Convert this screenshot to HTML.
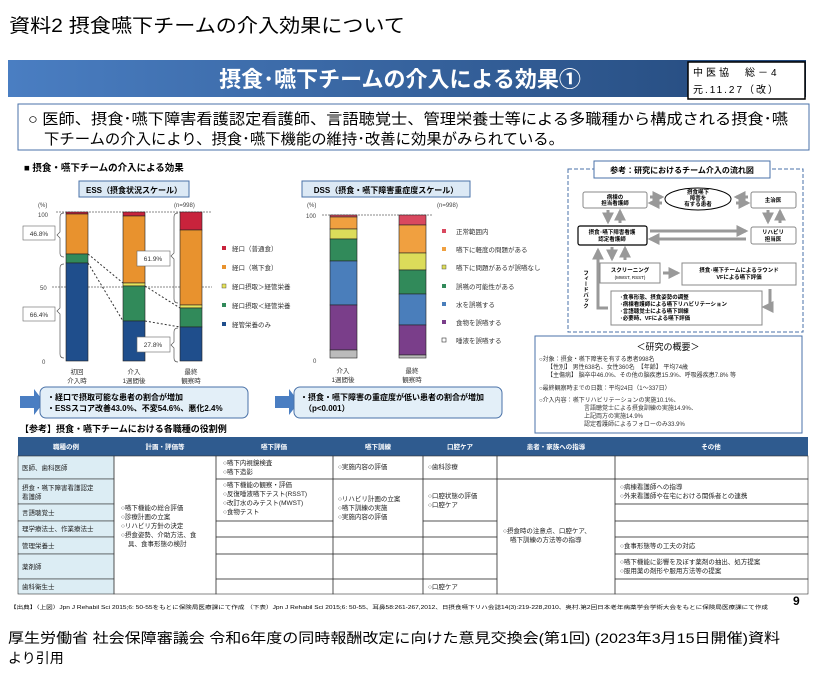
<!DOCTYPE html>
<html><head><meta charset="utf-8"><style>
html,body{margin:0;padding:0;background:#fff}
svg{display:block;font-family:"Liberation Sans","Noto Sans CJK JP",sans-serif}
</style></head><body>
<svg width="821" height="678" viewBox="0 0 821 678" xmlns="http://www.w3.org/2000/svg">
<defs>
<linearGradient id="bn" x1="0" x2="1" y1="0" y2="0"><stop offset="0" stop-color="#4a7ec2"/><stop offset="1" stop-color="#23487a"/></linearGradient>
<marker id="ah" viewBox="0 0 10 10" refX="8" refY="5" markerWidth="4" markerHeight="4" orient="auto"><path d="M0,0L10,5L0,10z" fill="#999"/></marker>
</defs>
<text x="9" y="32" font-size="19" fill="#000" textLength="396" lengthAdjust="spacingAndGlyphs">資料2 摂食嚥下チームの介入効果について</text>
<rect x="8" y="60" width="798" height="37" fill="url(#bn)"/>
<text x="400" y="87" font-size="22" fill="#fff" text-anchor="middle" font-weight="bold">摂食･嚥下チームの介入による効果①</text>
<rect x="688" y="62" width="117" height="37" fill="#fff" stroke="#000" stroke-width="1.5"/>
<text x="693" y="76" font-size="10" letter-spacing="3">中医協　総－4</text>
<text x="693" y="93" font-size="10" letter-spacing="2">元.11.27（改）</text>
<rect x="18" y="104" width="791" height="46" fill="#fff" stroke="#4a72a8" stroke-width="1"/>
<text x="28" y="124" font-size="15" textLength="760" lengthAdjust="spacingAndGlyphs">○  医師、摂食･嚥下障害看護認定看護師、言語聴覚士、管理栄養士等による多職種から構成される摂食･嚥</text>
<text x="44" y="144" font-size="15" textLength="520" lengthAdjust="spacingAndGlyphs">下チームの介入により、摂食･嚥下機能の維持･改善に効果がみられている。</text>

<text x="24" y="171" font-size="9.5" font-weight="bold">■ 摂食・嚥下チームの介入による効果</text>
<!-- ESS -->
<rect x="79" y="181" width="110" height="16" fill="#dce9f5" stroke="#4a72a8"/>
<text x="134" y="193" font-size="8" font-weight="bold" text-anchor="middle">ESS（摂食状況スケール）</text>
<g font-size="6" fill="#444">
<text x="38" y="207">(%)</text><text x="174" y="207">(n=998)</text>
<text x="38" y="217">100</text><text x="40" y="290">50</text><text x="42" y="364">0</text>
</g>
<line x1="56" y1="212" x2="212" y2="212" stroke="#888" stroke-dasharray="2,1"/>
<line x1="52" y1="287" x2="212" y2="287" stroke="#888" stroke-dasharray="2,1"/>
<g stroke="#222" stroke-width="0.6">
<rect x="66" y="212" width="22" height="2" fill="#c8233c"/><rect x="66" y="214" width="22" height="40" fill="#e8922e"/><rect x="66" y="254" width="22" height="9" fill="#318a5a"/><rect x="66" y="263" width="22" height="98" fill="#1f4e8c"/>
<rect x="123" y="212" width="22" height="4" fill="#c8233c"/><rect x="123" y="216" width="22" height="67" fill="#e8922e"/><rect x="123" y="283" width="22" height="3" fill="#e6e35a"/><rect x="123" y="286" width="22" height="35" fill="#318a5a"/><rect x="123" y="321" width="22" height="40" fill="#1f4e8c"/>
<rect x="180" y="212" width="22" height="18" fill="#c8233c"/><rect x="180" y="230" width="22" height="75" fill="#e8922e"/><rect x="180" y="305" width="22" height="3" fill="#e6e35a"/><rect x="180" y="308" width="22" height="19" fill="#318a5a"/><rect x="180" y="327" width="22" height="34" fill="#1f4e8c"/>
</g>
<g stroke="#333" stroke-dasharray="2,2" fill="none">
<line x1="88" y1="254" x2="123" y2="283"/><line x1="88" y1="263" x2="123" y2="321"/>
<line x1="145" y1="286" x2="180" y2="308"/><line x1="145" y1="321" x2="180" y2="327"/>
</g>
<g fill="none" stroke="#555" stroke-width="0.7">
<path d="M64,213 q-4,0 -4,4 v15 l-3,3 l3,3 v15 q0,4 4,4"/>
<path d="M64,264 q-4,0 -4,4 v40 l-3,3 l3,3 v40 q0,4 4,4"/>
<path d="M178,213 q-4,0 -4,4 v36 l-3,3 l3,3 v40 q0,4 4,4"/>
<path d="M178,328 q-4,0 -4,4 v10 l-3,3 l3,3 v10 q0,4 4,4"/>
</g>
<g font-size="6.5" fill="#333" text-anchor="middle">
<rect x="23" y="226" width="32" height="14" fill="#fff" stroke="#666" stroke-width="0.6"/><text x="39" y="236">46.8%</text>
<rect x="23" y="307" width="32" height="14" fill="#fff" stroke="#666" stroke-width="0.6"/><text x="39" y="317">66.4%</text>
<rect x="137" y="251" width="33" height="15" fill="#fff" stroke="#666" stroke-width="0.6"/><text x="153" y="261">61.9%</text>
<rect x="137" y="337" width="33" height="15" fill="#fff" stroke="#666" stroke-width="0.6"/><text x="153" y="347">27.8%</text>
<text x="77" y="374">初回</text><text x="77" y="383">介入時</text>
<text x="134" y="374">介入</text><text x="134" y="383">1週間後</text>
<text x="191" y="374">最終</text><text x="191" y="383">観察時</text>
</g>
<g font-size="6.5" fill="#333">
<rect x="222" y="246" width="4" height="4" fill="#c8233c"/><text x="232" y="251">経口（普通食）</text>
<rect x="222" y="265" width="4" height="4" fill="#e8922e"/><text x="232" y="270">経口（嚥下食）</text>
<rect x="222" y="284" width="4" height="4" fill="#e6e35a" stroke="#333" stroke-width="0.4"/><text x="232" y="289">経口摂取＞経管栄養</text>
<rect x="222" y="303" width="4" height="4" fill="#318a5a"/><text x="232" y="308">経口摂取＜経管栄養</text>
<rect x="222" y="322" width="4" height="4" fill="#1f4e8c"/><text x="232" y="327">経管栄養のみ</text>
</g>
<path d="M20,396 h14 v-7 l10,13 l-10,13 v-7 h-14z" fill="#4a7ec2"/>
<rect x="40" y="387" width="208" height="31" rx="6" fill="#e3eff8" stroke="#4a72a8"/>
<text x="47" y="400" font-size="8" font-weight="bold">・経口で摂取可能な患者の割合が増加</text>
<text x="47" y="411" font-size="8" font-weight="bold">・ESSスコア改善43.0%、不変54.6%、悪化2.4%</text>

<!-- DSS -->
<rect x="302" y="181" width="168" height="16" fill="#dce9f5" stroke="#4a72a8"/>
<text x="386" y="193" font-size="8" font-weight="bold" text-anchor="middle">DSS（摂食・嚥下障害重症度スケール）</text>
<g font-size="6" fill="#444">
<text x="307" y="207">(%)</text><text x="437" y="207">(n=998)</text>
<text x="306" y="218">100</text><text x="313" y="363">0</text>
</g>
<line x1="322" y1="215" x2="432" y2="215" stroke="#888" stroke-dasharray="2,1"/>
<g stroke="#222" stroke-width="0.6">
<rect x="330" y="215" width="27" height="2" fill="#d9485f"/><rect x="330" y="217" width="27" height="12" fill="#f0a040"/><rect x="330" y="229" width="27" height="10" fill="#dcdc5a"/><rect x="330" y="239" width="27" height="22" fill="#318a5a"/><rect x="330" y="261" width="27" height="44" fill="#4a7ebb"/><rect x="330" y="305" width="27" height="45" fill="#7a3e8a"/><rect x="330" y="350" width="27" height="8" fill="#bbb"/>
<rect x="399" y="215" width="27" height="10" fill="#d9485f"/><rect x="399" y="225" width="27" height="28" fill="#f0a040"/><rect x="399" y="253" width="27" height="17" fill="#dcdc5a"/><rect x="399" y="270" width="27" height="24" fill="#318a5a"/><rect x="399" y="294" width="27" height="31" fill="#4a7ebb"/><rect x="399" y="325" width="27" height="30" fill="#7a3e8a"/><rect x="399" y="355" width="27" height="3" fill="#bbb"/>
</g>
<g font-size="6.5" fill="#333">
<text x="343" y="373" text-anchor="middle">介入</text><text x="343" y="382" text-anchor="middle">1週間後</text>
<text x="412" y="373" text-anchor="middle">最終</text><text x="412" y="382" text-anchor="middle">観察時</text>
<rect x="442" y="229" width="4" height="4" fill="#d9485f"/><text x="456" y="234">正常範囲内</text>
<rect x="442" y="247" width="4" height="4" fill="#f0a040"/><text x="456" y="252">嚥下に軽度の問題がある</text>
<rect x="442" y="265" width="4" height="4" fill="#dcdc5a" stroke="#333" stroke-width="0.4"/><text x="456" y="270">嚥下に問題があるが誤嚥なし</text>
<rect x="442" y="284" width="4" height="4" fill="#318a5a"/><text x="456" y="289">誤嚥の可能性がある</text>
<rect x="442" y="302" width="4" height="4" fill="#4a7ebb"/><text x="456" y="307">水を誤嚥する</text>
<rect x="442" y="320" width="4" height="4" fill="#7a3e8a"/><text x="456" y="325">食物を誤嚥する</text>
<rect x="442" y="338" width="4" height="4" fill="#fff" stroke="#333" stroke-width="0.6"/><text x="456" y="343">唾液を誤嚥する</text>
</g>
<path d="M275,396 h14 v-7 l10,13 l-10,13 v-7 h-14z" fill="#4a7ec2"/>
<rect x="294" y="387" width="208" height="31" rx="6" fill="#e3eff8" stroke="#4a72a8"/>
<text x="300" y="400" font-size="8" font-weight="bold">・摂食・嚥下障害の重症度が低い患者の割合が増加</text>
<text x="304" y="411" font-size="8" font-weight="bold">（p&lt;0.001）</text>

<!-- flow -->
<rect x="568" y="169" width="235" height="163" fill="none" stroke="#4a72a8" stroke-dasharray="4,2"/>
<rect x="594" y="161" width="176" height="17" fill="#fff" stroke="#4a72a8"/>
<text x="682" y="173" font-size="8" font-weight="bold" text-anchor="middle">参考：研究におけるチーム介入の流れ図</text>
<g font-size="5.5" font-weight="bold" text-anchor="middle">
<rect x="583" y="192" width="64" height="16" rx="2" fill="#fff" stroke="#888"/><text x="615" y="199">病棟の</text><text x="615" y="205">担当看護師</text>
<ellipse cx="698" cy="199" rx="33" ry="11" fill="#fff" stroke="#000"/><text x="698" y="194">摂食嚥下</text><text x="698" y="200">障害を</text><text x="698" y="206">有する患者</text>
<rect x="751" y="192" width="45" height="16" rx="2" fill="#fff" stroke="#888"/><text x="773" y="202">主治医</text>
<rect x="578" y="226" width="69" height="19" rx="2" fill="#fff" stroke="#000" stroke-width="1.2"/><text x="612" y="234">摂食･嚥下障害看護</text><text x="612" y="241">認定看護師</text>
<rect x="751" y="227" width="45" height="17" rx="2" fill="#fff" stroke="#888"/><text x="773" y="234">リハビリ</text><text x="773" y="241">担当医</text>
<rect x="600" y="263" width="60" height="20" fill="#fff" stroke="#888"/><text x="630" y="272">スクリーニング</text><text x="630" y="279" font-weight="normal" font-size="4.5">(MWST, RSST)</text>
<rect x="682" y="263" width="114" height="22" fill="#fff" stroke="#888"/><text x="739" y="272">摂食･嚥下チームによるラウンド</text><text x="739" y="279">VFによる嚥下評価</text>
</g>
<rect x="611" y="291" width="151" height="34" fill="#fff" stroke="#888"/>
<g font-size="5.5" font-weight="bold"><text x="620" y="299">･食事形態、摂食姿勢の調整</text><text x="620" y="306">･病棟看護師による嚥下リハビリテーション</text><text x="620" y="313">･言語聴覚士による嚥下訓練</text><text x="620" y="320">･必要時、VFによる嚥下評価</text></g>
<g stroke="#999" stroke-width="3" fill="none" marker-end="url(#ah)">
<line x1="650" y1="197" x2="662" y2="197"/><line x1="662" y1="203" x2="650" y2="203"/>
<line x1="748" y1="197" x2="736" y2="197"/><line x1="736" y1="203" x2="748" y2="203"/>
<line x1="608" y1="210" x2="608" y2="222"/><line x1="620" y1="223" x2="620" y2="211"/>
<line x1="768" y1="210" x2="768" y2="222"/><line x1="780" y1="223" x2="780" y2="211"/>
<line x1="650" y1="231" x2="746" y2="231"/><line x1="746" y1="239" x2="650" y2="239"/>
<line x1="612" y1="247" x2="612" y2="259"/><line x1="625" y1="260" x2="625" y2="248"/>
<line x1="663" y1="273" x2="678" y2="273"/>
<path d="M770,289 v18 h-6"/>
<path d="M608,308 h-10 v-58"/>
</g>
<text x="585" y="270" font-size="5.5" font-weight="bold" writing-mode="tb">フィードバック</text>
<rect x="535" y="336" width="267" height="97" fill="#fff" stroke="#4a72a8"/>
<text x="668" y="350" font-size="9" text-anchor="middle">＜研究の概要＞</text>
<g font-size="6" fill="#333">
<text x="539" y="361">○対象：摂食・嚥下障害を有する患者998名</text>
<text x="547" y="369">【性別】 男性638名、女性360名　【年齢】 平均74歳</text>
<text x="547" y="377">【主傷病】 脳卒中46.0%、その他の脳疾患15.9%、呼吸器疾患7.8% 等</text>
<text x="539" y="390">○最終観察時までの日数：平均24日（1～337日）</text>
<text x="539" y="402">○介入内容：嚥下リハビリテーションの実施10.1%、</text>
<text x="584" y="410">言語聴覚士による摂食訓練の実施14.9%、</text>
<text x="584" y="418">上記両方の実施14.9%</text>
<text x="584" y="426">認定看護師によるフォローのみ33.9%</text>
</g>

<!-- table -->
<text x="20" y="432" font-size="9" font-weight="bold">【参考】摂食・嚥下チームにおける各職種の役割例</text>
<rect x="18" y="437" width="790" height="19" fill="#2f5b8f"/>
<g font-size="6.5" font-weight="bold" fill="#fff" text-anchor="middle">
<text x="66" y="449">職種の例</text><text x="165" y="449">計画・評価等</text><text x="274" y="449">嚥下評価</text><text x="378" y="449">嚥下訓練</text><text x="460" y="449">口腔ケア</text><text x="556" y="449">患者・家族への指導</text><text x="711" y="449">その他</text>
</g>
<g fill="#dcedf4" stroke="#333" stroke-width="0.6">
<rect x="18" y="456" width="96" height="23"/><rect x="18" y="479" width="96" height="25"/><rect x="18" y="504" width="96" height="17"/><rect x="18" y="521" width="96" height="16"/><rect x="18" y="537" width="96" height="17"/><rect x="18" y="554" width="96" height="25"/><rect x="18" y="579" width="96" height="15"/>
</g>
<g fill="none" stroke="#333" stroke-width="0.6">
<rect x="114" y="456" width="102" height="138"/>
<rect x="216" y="456" width="117" height="23"/><rect x="333" y="456" width="90" height="23"/><rect x="423" y="456" width="74" height="23"/><rect x="497" y="456" width="118" height="23"/><rect x="615" y="456" width="193" height="23"/>
<rect x="216" y="479" width="117" height="42"/><rect x="333" y="479" width="90" height="58"/><rect x="423" y="479" width="74" height="42"/><rect x="497" y="479" width="118" height="115"/><rect x="615" y="479" width="193" height="25"/>
<rect x="615" y="504" width="193" height="17"/><rect x="216" y="521" width="117" height="16"/><rect x="423" y="521" width="74" height="16"/><rect x="615" y="521" width="193" height="16"/>
<rect x="216" y="537" width="117" height="17"/><rect x="333" y="537" width="90" height="17"/><rect x="423" y="537" width="74" height="17"/><rect x="615" y="537" width="193" height="17"/>
<rect x="216" y="554" width="117" height="25"/><rect x="333" y="554" width="90" height="25"/><rect x="423" y="554" width="74" height="25"/><rect x="615" y="554" width="193" height="25"/>
<rect x="216" y="579" width="117" height="15"/><rect x="333" y="579" width="90" height="15"/><rect x="423" y="579" width="74" height="15"/><rect x="615" y="579" width="193" height="15"/>
</g>
<g font-size="6.5" fill="#222">
<text x="22" y="470">医師、歯科医師</text>
<text x="22" y="490">摂食・嚥下障害看護認定</text><text x="22" y="499">看護師</text>
<text x="22" y="515">言語聴覚士</text><text x="22" y="531">理学療法士、作業療法士</text><text x="22" y="548">管理栄養士</text><text x="22" y="569">薬剤師</text><text x="22" y="589">歯科衛生士</text>
<text x="121" y="510">○嚥下機能の総合評価</text><text x="121" y="519">○診療計画の立案</text><text x="121" y="528">○リハビリ方針の決定</text><text x="121" y="537">○摂食姿勢、介助方法、食</text><text x="128" y="546">具、食事形態の検討</text>
<text x="223" y="465">○嚥下内視鏡検査</text><text x="223" y="474">○嚥下造影</text>
<text x="223" y="487">○嚥下機能の観察・評価</text><text x="223" y="496">○反復唾液嚥下テスト(RSST)</text><text x="223" y="505">○改訂水のみテスト(MWST)</text><text x="223" y="514">○食物テスト</text>
<text x="338" y="469">○実施内容の評価</text>
<text x="338" y="501">○リハビリ計画の立案</text><text x="338" y="510">○嚥下訓練の実施</text><text x="338" y="519">○実施内容の評価</text>
<text x="428" y="469">○歯科診療</text>
<text x="428" y="498">○口腔状態の評価</text><text x="428" y="507">○口腔ケア</text><text x="428" y="589">○口腔ケア</text>
<text x="503" y="533">○摂食時の注意点、口腔ケア、</text><text x="510" y="542">嚥下訓練の方法等の指導</text>
<text x="620" y="489">○病棟看護師への指導</text><text x="620" y="498">○外来看護師や在宅における関係者との連携</text>
<text x="620" y="548">○食事形態等の工夫の対応</text>
<text x="620" y="564">○嚥下機能に影響を及ぼす薬剤の抽出、処方提案</text><text x="620" y="573">○服用薬の剤形や服用方法等の提案</text>
</g>
<text x="10" y="609" font-size="5" textLength="758" lengthAdjust="spacingAndGlyphs">【出典】（上図）Jpn J Rehabil Sci 2015;6: 50-55をもとに保険局医療課にて作成 （下表）Jpn J Rehabil Sci 2015;6: 50-55、耳鼻58:261-267,2012、日摂食嚥下リハ会誌14(3):219-228,2010、奥村.第2回日本老年病薬学会学術大会をもとに保険局医療課にて作成</text>
<text x="793" y="605" font-size="12" font-weight="bold">9</text>
<text x="8" y="643" font-size="14" textLength="772" lengthAdjust="spacingAndGlyphs">厚生労働省 社会保障審議会 令和6年度の同時報酬改定に向けた意見交換会(第1回) (2023年3月15日開催)資料</text>
<text x="8" y="663" font-size="14">より引用</text>
</svg>
</body></html>
